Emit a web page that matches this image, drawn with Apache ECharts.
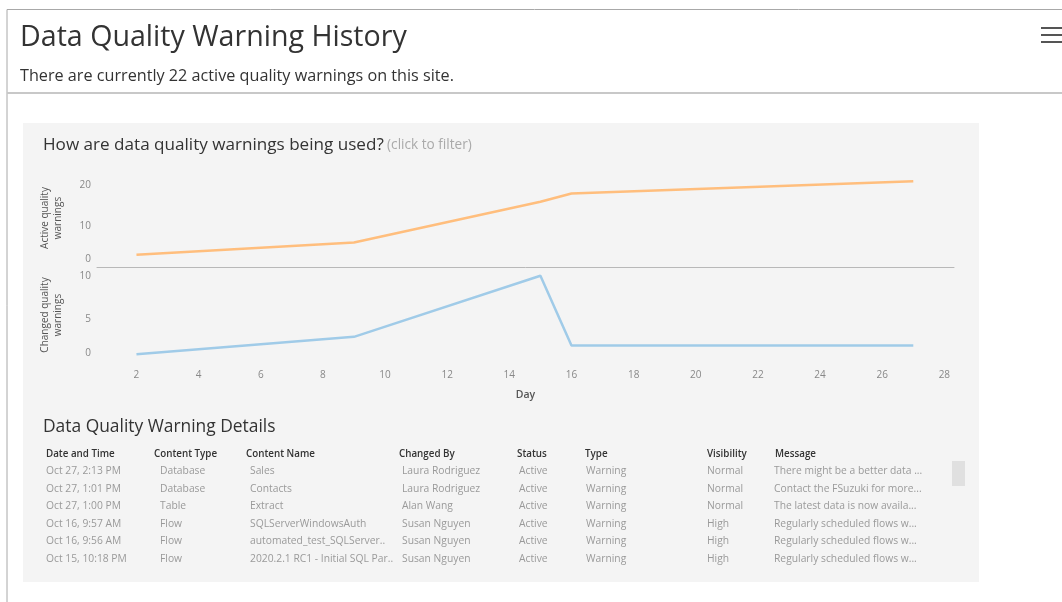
<!DOCTYPE html>
<html>
<head>
<meta charset="utf-8">
<title>Data Quality Warning History</title>
<script src="https://cdn.jsdelivr.net/npm/echarts@6/dist/echarts.min.js"></script>
<style>
  html, body { margin: 0; padding: 0; background: #ffffff; }
  #chart { width: 1062px; height: 602px; }
</style>
</head>
<body>
<div id="chart"></div>
<script>
// Daily counts of data quality warnings
const days = [2, 9, 15, 16, 27];
const activeWarnings = [3, 6, 16, 18, 21];
const changedWarnings = [1, 3, 10, 2, 2];

// Axis tick labels
const dayTicks = [2, 4, 6, 8, 10, 12, 14, 16, 18, 20, 22, 24, 26, 28];
const activeTicks = [0, 10, 20];
const changedTicks = [0, 5, 10];

// Details table
const tableHeaders = ['Date and Time', 'Content Type', 'Content Name', 'Changed By', 'Status', 'Type', 'Visibility', 'Message'];
const colDateTime = ['Oct 27, 2:13 PM', 'Oct 27, 1:01 PM', 'Oct 27, 1:00 PM', 'Oct 16, 9:57 AM', 'Oct 16, 9:56 AM', 'Oct 15, 10:18 PM'];
const colContentType = ['Database', 'Database', 'Table', 'Flow', 'Flow', 'Flow'];
const colContentName = ['Sales', 'Contacts', 'Extract', 'SQLServerWindowsAuth', 'automated_test_SQLServer..', '2020.2.1 RC1 - Initial SQL Par..'];
const colChangedBy = ['Laura Rodriguez', 'Laura Rodriguez', 'Alan Wang', 'Susan Nguyen', 'Susan Nguyen', 'Susan Nguyen'];
const colStatus = ['Active', 'Active', 'Active', 'Active', 'Active', 'Active'];
const colType = ['Warning', 'Warning', 'Warning', 'Warning', 'Warning', 'Warning'];
const colVisibility = ['Normal', 'Normal', 'Normal', 'High', 'High', 'High'];
const colMessage = ['There might be a better data ...', 'Contact the FSuzuki for more...', 'The latest data is now availa...', 'Regularly scheduled flows w...', 'Regularly scheduled flows w...', 'Regularly scheduled flows w...'];

const FONT = '"Open Sans", "Noto Sans", sans-serif';
const ORANGE = '#ffbe7d';
const BLUE = '#a0cbe8';

const chart = echarts.init(document.getElementById('chart'), null, { renderer: 'canvas' });

// Table layout: header x positions and value x positions
const headerX = [46, 154, 246, 399, 517, 585, 707, 775];
const valueX = [46, 160, 250, 402, 519, 586, 707, 774];
const columns = [colDateTime, colContentType, colContentName, colChangedBy, colStatus, colType, colVisibility, colMessage];
const rowY = [471.5, 489, 506.5, 524, 541.5, 559];

const graphics = [];
// page frame
graphics.push({ type: 'line', shape: { x1: 7, y1: 9.5, x2: 1062, y2: 9.5 }, style: { stroke: '#a8a8a8', lineWidth: 1 }, z: 1 });
graphics.push({ type: 'line', shape: { x1: 7, y1: 9.5, x2: 7, y2: 602 }, style: { stroke: '#a8a8a8', lineWidth: 1 }, z: 1 });
graphics.push({ type: 'line', shape: { x1: 7, y1: 93, x2: 1062, y2: 93 }, style: { stroke: '#c8c8c8', lineWidth: 2 }, z: 1 });
// menu icon
[28, 35, 42].forEach(function (y) {
  graphics.push({ type: 'rect', shape: { x: 1041, y: y - 1, width: 21, height: 2 }, style: { fill: '#555555' }, z: 1 });
});
// page title and subtitle
graphics.push({ type: 'text', x: 20, y: 38, style: { text: 'Data Quality Warning History', font: '28.6px ' + FONT, fill: '#333333', verticalAlign: 'middle' }, z: 2 });
graphics.push({ type: 'text', x: 20, y: 76, style: { text: 'There are currently 22 active quality warnings on this site.', font: '16.2px ' + FONT, fill: '#333333', verticalAlign: 'middle' }, z: 2 });
// dashboard panel
graphics.push({ type: 'rect', shape: { x: 23, y: 123, width: 956, height: 459 }, style: { fill: '#f4f4f4' }, z: -10 });
graphics.push({
  type: 'text', x: 43, y: 145,
  style: {
    text: '{a|How are data quality warnings being used?} {b|(click to filter)}',
    verticalAlign: 'middle',
    rich: {
      a: { font: '17.1px ' + FONT, fill: '#333333' },
      b: { font: '13.6px ' + FONT, fill: '#aaaaaa' }
    }
  }, z: 2
});
graphics.push({ type: 'text', x: 43, y: 427, style: { text: 'Data Quality Warning Details', font: '17.4px ' + FONT, fill: '#333333', verticalAlign: 'middle' }, z: 2 });
// table
tableHeaders.forEach(function (h, i) {
  graphics.push({ type: 'text', x: headerX[i], y: 454, style: { text: h, font: '600 9.8px ' + FONT, fill: '#333333', verticalAlign: 'middle' }, z: 2 });
});
columns.forEach(function (col, i) {
  col.forEach(function (v, r) {
    graphics.push({ type: 'text', x: valueX[i], y: rowY[r], style: { text: v, font: '10.3px ' + FONT, fill: '#9a9a9a', verticalAlign: 'middle' }, z: 2 });
  });
});
// table scroll thumb
graphics.push({ type: 'rect', shape: { x: 952, y: 461, width: 13, height: 25 }, style: { fill: '#e0e0e0' }, z: 2 });

function pairs(values) {
  return days.map(function (d, i) { return [d, values[i]]; });
}

// keeps the zero label inside its pane by lifting it
const zeroUp = function (shift) {
  return {
    formatter: function (v) { return v === 0 ? '{z|0}' : String(v); },
    rich: { z: { padding: [0, 0, shift, 0], color: '#888888', fontSize: 10, fontFamily: FONT } }
  };
};

const option = {
  animation: false,
  textStyle: { fontFamily: FONT },
  graphic: graphics,
  grid: [
    { left: 97, width: 857, top: 169, height: 98 },
    { left: 97, width: 857, top: 267, height: 96 }
  ],
  xAxis: [
    {
      type: 'value', gridIndex: 0, min: 0.73, max: 28.31,
      axisLine: { show: true, onZero: false, lineStyle: { color: '#b8b8b8', width: 1 } },
      axisTick: { show: false }, axisLabel: { show: false }, splitLine: { show: false }
    },
    {
      type: 'value', gridIndex: 1, min: 0.73, max: 28.31,
      name: 'Day', nameLocation: 'middle', nameGap: 27,
      nameTextStyle: { color: '#555555', fontSize: 10.5, fontWeight: 600, fontFamily: FONT },
      axisLine: { show: false }, axisTick: { show: false }, splitLine: { show: false },
      axisLabel: { customValues: dayTicks, color: '#888888', fontSize: 10, margin: 7, fontFamily: FONT }
    }
  ],
  yAxis: [
    {
      type: 'value', gridIndex: 0, min: 0, max: 24,
      name: 'Active quality\nwarnings', nameLocation: 'middle', nameGap: 32, nameRotate: 90,
      nameTextStyle: { color: '#555555', fontSize: 10, lineHeight: 13, fontFamily: FONT },
      axisLine: { show: false }, axisTick: { show: false }, splitLine: { show: false },
      axisLabel: Object.assign({ customValues: activeTicks, color: '#888888', fontSize: 10, margin: 6, fontFamily: FONT }, zeroUp(15))
    },
    {
      type: 'value', gridIndex: 1, min: 0, max: 11,
      name: 'Changed quality\nwarnings', nameLocation: 'middle', nameGap: 32, nameRotate: 90,
      nameTextStyle: { color: '#555555', fontSize: 10, lineHeight: 13, fontFamily: FONT },
      axisLine: { show: false }, axisTick: { show: false }, splitLine: { show: false },
      axisLabel: Object.assign({ customValues: changedTicks, color: '#888888', fontSize: 10, margin: 6, fontFamily: FONT }, zeroUp(20))
    }
  ],
  series: [
    {
      name: 'Active quality warnings', type: 'line', xAxisIndex: 0, yAxisIndex: 0,
      data: pairs(activeWarnings), showSymbol: false, symbol: 'none',
      lineStyle: { color: ORANGE, width: 2.5 }, itemStyle: { color: ORANGE }
    },
    {
      name: 'Changed quality warnings', type: 'line', xAxisIndex: 1, yAxisIndex: 1,
      data: pairs(changedWarnings), showSymbol: false, symbol: 'none',
      lineStyle: { color: BLUE, width: 2.5 }, itemStyle: { color: BLUE }
    }
  ]
};

chart.setOption(option);
</script>
</body>
</html>
